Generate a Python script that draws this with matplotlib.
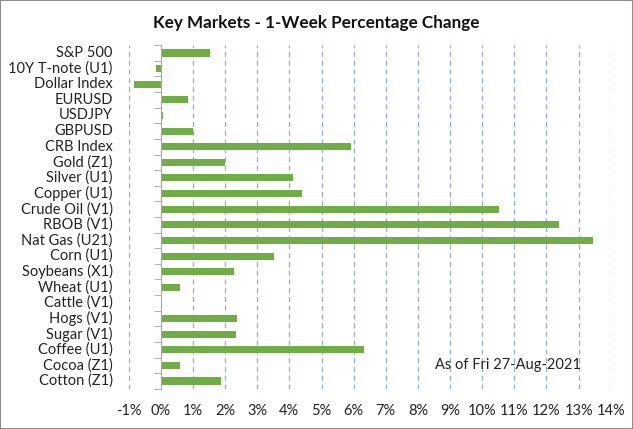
import matplotlib
matplotlib.use("Agg")
import matplotlib.pyplot as plt
from matplotlib.patches import Rectangle
from matplotlib.ticker import FixedLocator

categories = ["S&P 500", "10Y T-note (U1)", "Dollar Index", "EURUSD", "USDJPY", "GBPUSD",
              "CRB Index", "Gold (Z1)", "Silver (U1)", "Copper (U1)", "Crude Oil (V1)",
              "RBOB (V1)", "Nat Gas (U21)", "Corn (U1)", "Soybeans (X1)", "Wheat (U1)",
              "Cattle (V1)", "Hogs (V1)", "Sugar (V1)", "Coffee (U1)", "Cocoa (Z1)", "Cotton (Z1)"]
values = [1.54, -0.14, -0.85, 0.85, 0.08, 1.0,
          5.92, 2.0, 4.11, 4.39, 10.51,
          12.4, 13.46, 3.52, 2.28, 0.6,
          0.0, 2.37, 2.34, 6.32, 0.6, 1.88]
xticks = list(range(-1, 15))
xtick_labels = [f"{t}%" for t in xticks]
title = "Key Markets - 1-Week Percentage Change"
note = "As of Fri 27-Aug-2021"

plt.rcParams['font.family'] = ['Lato', 'DejaVu Sans']

fig = plt.figure(figsize=(6.33, 4.29), dpi=100)
fig.patches.append(Rectangle((0, 0), 1, 1, transform=fig.transFigure, fill=False,
                             edgecolor="#8c8c8c", linewidth=1.5))

W, H = 633, 429
left, right, top, bottom = 128.7, 610.7, 45.2, 388.8
ax = fig.add_axes([left / W, 1 - bottom / H, (right - left) / W, (bottom - top) / H])

n = len(categories)
ypos = list(range(n))
ax.barh(ypos, values, height=0.45, color="#70AD47", zorder=3)

ax.set_xlim(-1, 14)
ax.set_ylim(n - 0.5, -0.5)

for t in xticks:
    if t != 0:
        ax.axvline(t, color="#8FAADC", linestyle=(0, (4, 3)), linewidth=0.9, zorder=1)

for s in ["top", "right", "bottom"]:
    ax.spines[s].set_visible(False)
ax.spines["left"].set_position(("data", 0))
ax.spines["left"].set_color("#a6a6a6")
ax.spines["left"].set_zorder(4)

ax.set_yticks(ypos)
ax.set_yticklabels([])
ax.tick_params(axis="y", which="major", length=0)
ax.yaxis.set_minor_locator(FixedLocator([i - 0.5 for i in range(n + 1)]))
ax.tick_params(axis="y", which="minor", length=5, color="#a6a6a6", direction="out")

ax.set_xticks(xticks)
ax.set_xticklabels(xtick_labels, fontsize=10.5, color="#222222")
ax.tick_params(axis="x", length=0, pad=11)

for y, c in zip(ypos, categories):
    ax.text(-0.033, y, c, transform=ax.get_yaxis_transform(), ha="right", va="center",
            fontsize=10.5, color="#222222")

fig.text(0.5, 1 - 23 / H, title, ha="center", va="center", fontsize=12.3,
         fontweight="bold", color="#111111")
ax.text(508 / W, 1 - 365 / H, note, transform=fig.transFigure, ha="center", va="center",
        fontsize=10.5, color="#222222")

fig.savefig("out.png", dpi=100)
